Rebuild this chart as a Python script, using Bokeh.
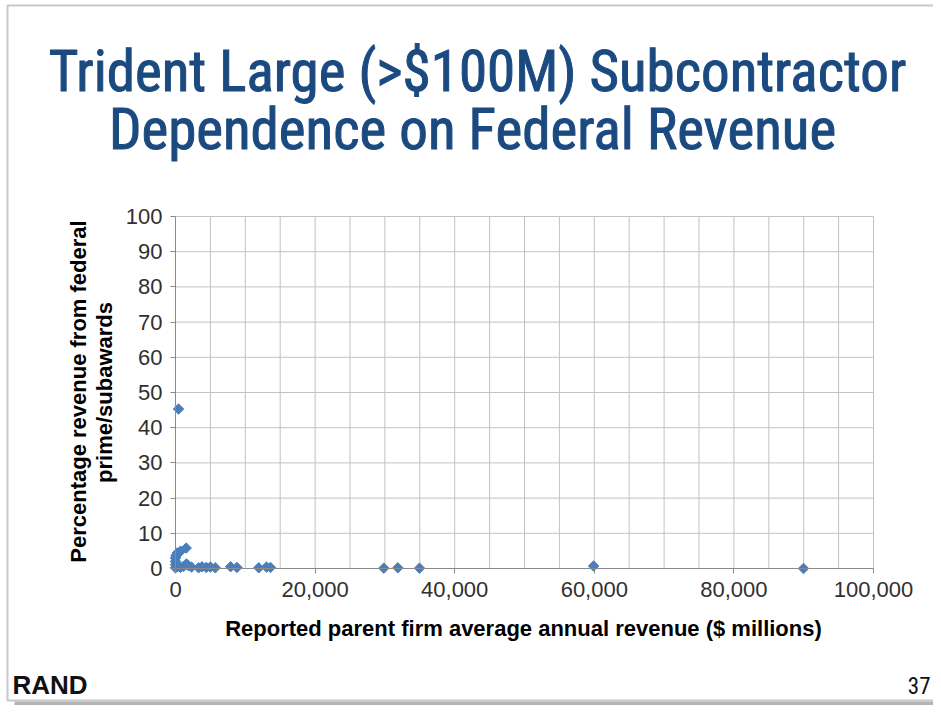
from bokeh.plotting import figure
from bokeh.models import Range1d, FixedTicker, NumeralTickFormatter, Label, BoxAnnotation
from bokeh.embed import file_html
from bokeh.resources import INLINE

# Reported parent firm average annual revenue ($ millions)
revenue = [430, 0, 0, 0, 0, 100, 240, 720, 1530,
           290, 720, 1150, 1580, 1860, 2290, 3300, 3800, 4400, 5000, 5700,
           7900, 8800, 11930, 13040, 13610, 29840, 31850, 34960, 59900, 89970]
# Percentage revenue from federal prime/subawards
pct_federal = [45.3, 0.2, 1.1, 2.0, 3.0, 3.7, 4.4, 4.9, 5.8,
               0.5, 0.3, 0.6, 1.3, 0.8, 0.4, 0.2, 0.5, 0.3, 0.4, 0.2,
               0.5, 0.3, 0.2, 0.4, 0.3, 0.1, 0.2, 0.1, 0.7, 0.0]

x_major = [0, 20000, 40000, 60000, 80000, 100000]
x_grid = list(range(0, 100001, 5000))
y_major = list(range(0, 101, 10))

title_1 = "Trident Large (>$100M) Subcontractor"
title_2 = "Dependence on Federal Revenue"
x_title = "Reported parent firm average annual revenue ($ millions)"
y_title_1 = "Percentage revenue from federal"
y_title_2 = "prime/subawards"

W, H = 933, 705
# plot area: x 0..100000 -> px 175..873 ; y 0..100 -> px 568..216 (from top)
X0, X1, YT, YB = 175, 873, 216, 568
sx = (X1 - X0) / 100000.0
sy = (YB - YT) / 100.0
x_rng = Range1d(-X0 / sx, 100000 + (W - X1) / sx)
y_rng = Range1d(-(H - YB) / sy, 100 + YT / sy)

p = figure(width=W, height=H, output_backend="svg", toolbar_location=None,
           x_range=x_rng, y_range=y_rng,
           min_border_left=0, min_border_right=0, min_border_top=0, min_border_bottom=0)
p.outline_line_color = None
p.background_fill_color = "white"
p.border_fill_color = "white"
p.grid.visible = False

grid_color = "#C2C2C2"
p.segment(x0=x_grid, y0=0, x1=x_grid, y1=100, line_color=grid_color, line_width=1)
p.segment(x0=0, y0=y_major, x1=100000, y1=y_major, line_color=grid_color, line_width=1)

tick_font = "Liberation Sans"
for ax in (p.xaxis[0], p.yaxis[0]):
    ax.fixed_location = 0
    ax.axis_line_color = "#8A8A8A"
    ax.major_tick_line_color = "#8A8A8A"
    ax.major_tick_out = 5
    ax.major_tick_in = 0
    ax.minor_tick_line_color = None
    ax.major_label_text_font = tick_font
    ax.major_label_text_font_size = "22px"
    ax.major_label_text_color = "#303030"

p.xaxis[0].ticker = FixedTicker(ticks=x_major)
p.xaxis[0].formatter = NumeralTickFormatter(format="0,0")
p.xaxis[0].bounds = (0, 100000)
p.xaxis[0].major_label_standoff = 8
p.yaxis[0].ticker = FixedTicker(ticks=y_major)
p.yaxis[0].bounds = (0, 100)
p.yaxis[0].major_label_standoff = 8

p.scatter(revenue, pct_federal, marker="square", angle=45, angle_units="deg", size=7.4,
          fill_color="#4A7EBB", line_color="#4A7EBB", line_width=1)

cond = "'Roboto Condensed', 'Noto Sans Condensed', 'Liberation Sans Narrow', 'Liberation Sans'"
title_color = "#1B4A80"
p.add_layout(Label(x=477, y=H - 71, x_units="screen", y_units="screen", text=title_1,
                   text_font=cond, text_font_size="57px",
                   text_color=title_color, text_outline_color=title_color,
                   text_align="center", text_baseline="middle"))
p.add_layout(Label(x=472, y=H - 129, x_units="screen", y_units="screen", text=title_2,
                   text_font=cond, text_font_size="57px",
                   text_color=title_color, text_outline_color=title_color,
                   text_align="center", text_baseline="middle"))
p.add_layout(Label(x=523, y=H - 628, x_units="screen", y_units="screen", text=x_title,
                   text_font="Liberation Sans", text_font_style="bold",
                   text_font_size="22px", text_color="black", text_align="center",
                   text_baseline="middle"))
p.add_layout(Label(x=78, y=H - 391, x_units="screen", y_units="screen", text=y_title_1,
                   text_font="Liberation Sans", text_font_style="bold",
                   text_font_size="22px", text_color="black", text_align="center",
                   text_baseline="middle", angle=90, angle_units="deg"))
p.add_layout(Label(x=104, y=H - 392, x_units="screen", y_units="screen", text=y_title_2,
                   text_font="Liberation Sans", text_font_style="bold",
                   text_font_size="22px", text_color="black", text_align="center",
                   text_baseline="middle", angle=90, angle_units="deg"))
p.add_layout(Label(x=12, y=H - 684, x_units="screen", y_units="screen", text="RAND",
                   text_font="Liberation Sans", text_font_style="bold",
                   text_font_size="26px", text_color="#111111", text_baseline="middle"))
p.add_layout(Label(x=930, y=H - 685, x_units="screen", y_units="screen", text="37",
                   text_font=cond,
                   text_font_size="23px", text_color="#111111", text_align="right",
                   text_baseline="middle"))
# slide frame and its bottom shadow
p.add_layout(BoxAnnotation(left=7, right=W + 20, bottom=H - 700, top=H - 5,
                           left_units="screen", right_units="screen",
                           bottom_units="screen", top_units="screen",
                           fill_alpha=0, line_color="#4A4A4A", line_width=2))
p.add_layout(BoxAnnotation(left=14, right=W + 20, bottom=0, top=H - 701,
                           left_units="screen", right_units="screen",
                           bottom_units="screen", top_units="screen",
                           fill_color="#B4B4B4", fill_alpha=1, line_color=None))

open("out.html", "w").write(file_html(p, INLINE))
